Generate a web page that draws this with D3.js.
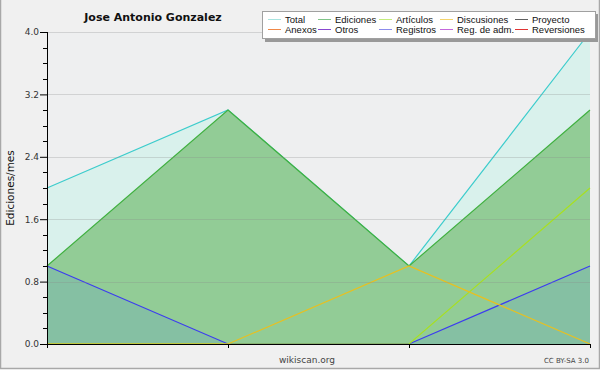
<html>
	<head>
		<title>Jose Antonio Gonzalez</title>
		<style>
			body {
				margin:0;
				background:#fff;
			}
			svg {
				display:block;
				font-family:"DejaVu Sans";
			}
			.leg {
				font-family:"Liberation Sans",Arial,sans-serif;
			}
		</style>
	</head>
	<body>
		<svg></svg>
		<script src="https://d3js.org/d3.v7.min.js"></script>
		<script>
			// data (4 months, no labels shown)
			const months = [0, 1, 2, 3];
			const total = [2, 3, 1, 4];
			const ediciones = [1, 3, 1, 3];
			const articulos = [0, 0, 0, 2];
			const discusiones = [0, 0, 1, 0];
			const registros = [1, 0, 0, 1];
			const yTicks = [0, 0.8, 1.6, 2.4, 3.2, 4.0];
			const yMinor = d3.range(0, 4.01, 0.2);

			const legendNames = ["Total", "Ediciones", "Artículos", "Discusiones", "Proyecto",
				"Anexos", "Otros", "Registros", "Reg. de adm.", "Reversiones"];
			const legendColors = ["#a8e4e0", "#80c488", "#c4ec7c", "#f4d46c", "#606060",
				"#f08848", "#8848d0", "#8c8cec", "#c468dc", "#e03434"];

			const width = 600;
			const height = 370;
			const margin = ({top: 32, right: 10, bottom: 26, left: 47});

			const svg = d3.select("svg")
				.attr("width", width)
				.attr("height", height);

			// outer background and frame
			svg.append("rect")
				.attr("x", 0.5).attr("y", -1)
				.attr("width", width - 1).attr("height", height - 0.5)
				.attr("fill", "#f0f0f0")
				.attr("stroke", "#a8a8a8")
				.attr("stroke-width", 1.5);

			const x = d3.scaleLinear()
				.domain([0, 3])
				.range([margin.left, width - margin.right]);
			const y = d3.scaleLinear()
				.domain([0, 4])
				.range([height - margin.bottom, margin.top]);

			// plot background
			svg.append("rect")
				.attr("x", x(0)).attr("y", y(4))
				.attr("width", x(3) - x(0)).attr("height", y(0) - y(4))
				.attr("fill", "#eeeff0");

			const area = d3.area()
				.x((d, i) => x(months[i]))
				.y0(y(0))
				.y1(d => y(d));
			const line = d3.line()
				.x((d, i) => x(months[i]))
				.y(d => y(d));

			function drawArea(vals, fill, stroke){
				svg.append("path")
					.attr("d", area(vals))
					.attr("fill", fill);
				svg.append("path")
					.attr("d", line(vals))
					.attr("fill", "none")
					.attr("stroke", stroke)
					.attr("stroke-width", 1.2);
			}
			function drawLine(vals, stroke){
				svg.append("path")
					.attr("d", line(vals))
					.attr("fill", "none")
					.attr("stroke", stroke)
					.attr("stroke-width", 1.2);
			}

			drawArea(total, "#d9f1ec", "#3ccccc");
			drawArea(ediciones, "#92cc96", "#40b040");
			drawArea(registros, "#85c0a3", "#3c3cf0");
			drawLine(articulos, "#a8e020");
			drawLine(discusiones, "#e8c020");

			// grid lines, drawn over the fills
			svg.append("g")
				.selectAll("line")
				.data(yTicks.slice(1))
				.join("line")
				.attr("x1", x(0)).attr("x2", x(3))
				.attr("y1", d => Math.round(y(d)) + 0.5)
				.attr("y2", d => Math.round(y(d)) + 0.5)
				.attr("stroke", "#888")
				.attr("stroke-opacity", 0.28);

			// y axis
			const yAxis = d3.axisLeft(y)
				.tickValues(yTicks)
				.tickFormat(d3.format(".1f"))
				.tickSize(7)
				.tickPadding(1);
			const gY = svg.append("g")
				.attr("transform", `translate(${x(0)},0)`)
				.call(yAxis);
			gY.select(".domain").attr("d", `M0.5,${y(4)}V${y(0)}`);
			gY.selectAll("text")
				.attr("font-family", "DejaVu Sans")
				.attr("font-size", 9)
				.attr("fill", "#333");
			gY.append("g")
				.selectAll("line")
				.data(yMinor.filter((d, i) => i % 4 != 0))
				.join("line")
				.attr("x1", -4).attr("x2", 0)
				.attr("y1", d => Math.round(y(d)) + 0.5)
				.attr("y2", d => Math.round(y(d)) + 0.5)
				.attr("stroke", "#000");

			// x axis
			const xAxis = d3.axisBottom(x)
				.tickValues(months)
				.tickFormat("")
				.tickSize(4)
				.tickSizeOuter(0);
			svg.append("g")
				.attr("transform", `translate(0,${Math.round(y(0))})`)
				.call(xAxis);

			// texts
			svg.append("text")
				.attr("x", 153).attr("y", 21)
				.attr("text-anchor", "middle")
				.attr("font-size", 11)
				.attr("font-weight", "bold")
				.attr("fill", "#111")
				.text("Jose Antonio Gonzalez");

			svg.append("text")
				.attr("transform", `translate(14,${(y(0) + y(4)) / 2}) rotate(-90)`)
				.attr("text-anchor", "middle")
				.attr("font-size", 10.5)
				.attr("fill", "#111")
				.text("Ediciones/mes");

			svg.append("text")
				.attr("x", 307).attr("y", 363)
				.attr("text-anchor", "middle")
				.attr("font-size", 9)
				.attr("fill", "#444")
				.text("wikiscan.org");

			svg.append("text")
				.attr("x", 589).attr("y", 363)
				.attr("text-anchor", "end")
				.attr("font-size", 7)
				.attr("fill", "#444")
				.text("CC BY-SA 3.0");

			// legend
			const colX = [285, 335, 396, 457, 532];
			const legend = svg.append("g").attr("class", "leg");
			legend.append("rect")
				.attr("x", 265).attr("y", 14)
				.attr("width", 333).attr("height", 28)
				.attr("fill", "#999");
			legend.append("rect")
				.attr("x", 262.5).attr("y", 11.5)
				.attr("width", 333).attr("height", 27)
				.attr("fill", "#fff")
				.attr("stroke", "#a0a0a0");

			const item = legend.selectAll("g.item")
				.data(legendNames)
				.join("g")
				.attr("class", "item")
				.attr("transform", (d, i) => `translate(${colX[i % 5]},${i < 5 ? 19 : 29})`);
			item.append("line")
				.attr("x1", -17).attr("x2", -4)
				.attr("y1", 0.5).attr("y2", 0.5)
				.attr("stroke", d => legendColors[legendNames.indexOf(d)])
				.attr("stroke-width", 1);
			item.append("text")
				.attr("y", 4)
				.attr("font-size", 9.5)
				.attr("fill", "#111")
				.text(d => d);
		</script>
	</body>
</html>
